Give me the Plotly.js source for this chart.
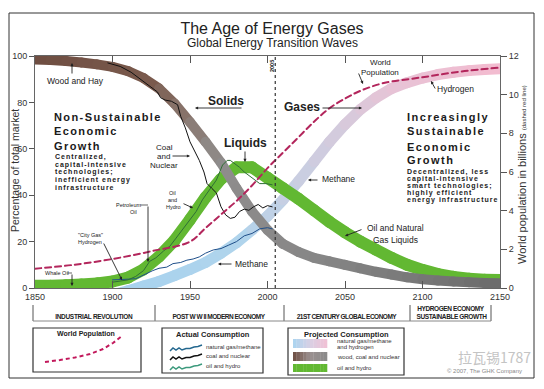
<!DOCTYPE html>
<html><head><meta charset="utf-8">
<script src="https://cdn.plot.ly/plotly-3.0.1.min.js"></script>
<style>
html,body{margin:0;padding:0;background:#fff;}
#chart{width:544px;height:389px;}
.scatterlayer .js-line{stroke-linecap:round;stroke-linejoin:round;}
</style></head><body><div id="chart"></div>
<script>
// ---------------- DATA ----------------
const bandYears = [1850,1860,1870,1880,1890,1900,1910,1920,1930,1940,1950,1960,1970,1980,1990,2000,2010,2020,2030,2040,2050,2060,2070,2080,2090,2100,2110,2120,2130,2140,2150];
const solidsShare  = [98.5,98.3,97.8,97.2,96.4,95.3,93.5,90.5,86,79.5,71.5,63,54,43,33,25,19,15.5,13,11.5,10,8.5,7,5.8,4.6,3.8,3.2,2.8,2.5,2.2,2];
const liquidsShare = [1,1,1.2,1.5,2,2.8,4.5,8,13.5,20.5,29.5,39,47,52,52,47.5,43,38.5,33.5,28.5,24,20,16.5,13,10,7.8,6,4.8,4,3.6,3.4];
const gasesShare   = [null,null,null,null,null,-3,-1.2,0.8,2.8,5.3,8,11,15,19.5,25,31,38,46,54.5,63,70.5,77,82,86,88.5,90.5,92,93,93.7,94.2,94.5];

const coalYears  = [1897,1905,1912,1920,1925,1929,1931,1934,1938,1942,1944,1947,1950,1953,1956,1959,1961,1964,1967,1970,1973,1976,1979,1982,1985,1988,1991,1994,1997,2000,2003];
const coalActual = [97,95.5,93,89,86.5,84.5,82,81,80.5,79,74,69,63,59,55,50,45,43,41,35,31.5,30,30.5,33,34,33.5,35,36,34.5,35.5,35];
const oilYears   = [1900,1905,1910,1915,1920,1924,1928,1933,1937,1941,1945,1950,1954,1958,1962,1967,1971,1974,1976,1979,1982,1985,1988,1991,1995,1999,2003];
const oilActual  = [2.5,3,3.5,5,7.5,11.5,13,16,18,21.5,25,29,33,38,42,46.5,53,55,55,53.5,52,50,48.5,47,45,45,44.5];
const gasYears   = [1900,1905,1910,1915,1918,1922,1926,1930,1935,1939,1944,1948,1952,1956,1960,1965,1970,1975,1980,1985,1990,1995,2000,2003];
const gasActual  = [3.5,3.5,3.8,4,5,6.5,7.5,8.5,9,10.5,11,12,12.5,13.4,15,16.4,17,18.5,20,22.5,23.5,25.5,26,25.5];

const popYears    = [1850,1875,1900,1925,1950,1960,1970,1980,1990,2000,2010,2020,2030,2040,2050,2060,2075,2100,2125,2150];
const popBillions = [1.0,1.2,1.5,1.9,2.4,3.1,3.8,4.5,5.3,6.2,7.0,7.8,8.6,9.3,9.8,10.2,10.6,10.9,11.2,11.4];

const xTickVals  = [1850,1900,1950,2000,2050,2100,2150];
const yTickVals  = [0,20,40,60,80,100];
const y2TickVals = [0,2,4,6,8,10,12];
const markerYear = 2005;
const eraLabels  = ['INDUSTRIAL REVOLUTION','POST W W II MODERN ECONOMY','21ST CENTURY GLOBAL ECONOMY','HYDROGEN ECONOMY','SUSTAINABLE GROWTH'];

// ---------------- HELPERS ----------------
const L=35,T=56,W=465,H=232;
const px=X=>(X-L)/W, py=Y=>(T+H-Y)/H;
const F='"Liberation Sans", Arial, sans-serif';
function hex2rgb(h){return [1,3,5].map(i=>parseInt(h.substr(i,2),16));}
function interp(stops,t){
  if(t<=stops[0][0]) return stops[0][1];
  for(let i=0;i<stops.length-1;i++){
    const a=stops[i],b=stops[i+1];
    if(t<=b[0]){const f=(t-a[0])/(b[0]-a[0]);const ca=hex2rgb(a[1]),cb=hex2rgb(b[1]);
      return 'rgb('+ca.map((v,k)=>Math.round(v+(cb[k]-v)*f)).join(',')+')';}
  }
  return stops[stops.length-1][1];
}
const solidStops=[[1850,'#6e4d41'],[1925,'#7a5a4d'],[1950,'#8a7870'],[1970,'#8f8d8c'],[2040,'#858585'],[2150,'#6c6c6c']];
const gasStops=[[1900,'#a6d2ef'],[1985,'#b0d4ec'],[2015,'#c6cfe3'],[2045,'#d3cbdd'],[2080,'#e6c4d6'],[2150,'#f3bbcf']];
const liqStops=[[1850,'#62b832'],[2150,'#62b832']];

const traces=[];
function band(vals,stops,w){
  for(let i=0;i<bandYears.length-1;i++){
    if(vals[i]==null||vals[i+1]==null) continue;
    traces.push({x:[bandYears[i],bandYears[i+1]],y:[vals[i],vals[i+1]],mode:'lines',
      line:{color:interp(stops,(bandYears[i]+bandYears[i+1])/2),width:w},hoverinfo:'skip',showlegend:false});
  }
}
band(gasesShare,gasStops,11);
band(liquidsShare,liqStops,12);
band(solidsShare,solidStops,10);
traces.push({x:gasYears,y:gasActual,mode:'lines',line:{color:'#1f4f8a',width:1},hoverinfo:'skip'});
traces.push({x:oilYears,y:oilActual,mode:'lines',line:{color:'#2f6f35',width:1},hoverinfo:'skip'});
traces.push({x:coalYears,y:coalActual,mode:'lines',line:{color:'#111',width:1},hoverinfo:'skip'});
traces.push({x:popYears,y:popBillions,yaxis:'y2',mode:'lines',line:{color:'#b3265c',width:2,dash:'6px,4px',shape:'spline'},hoverinfo:'skip'});

// ---------------- ANNOTATIONS ----------------
const anns=[]; const spacing={};
function txt(s,X,Y,size,o={}){
  anns.push({text:s,x:px(X),y:py(Y),xref:'paper',yref:'paper',showarrow:false,
    xanchor:o.anchor||'center',yanchor:'middle',align:o.anchor==='left'?'left':'center',
    textangle:o.angle||0,font:{family:o.family||F,size:size,color:o.color||'#222'}});
  if(o.ls!==undefined) spacing[anns.length-1]=o.ls;
}
function arrow(X1,Y1,X2,Y2,o={}){
  anns.push({text:'',x:px(X2),y:py(Y2),xref:'paper',yref:'paper',ax:X1-X2,ay:Y1-Y2,
    showarrow:true,arrowhead:o.head===undefined?2:o.head,arrowsize:0.7,arrowwidth:o.w||0.9,arrowcolor:'#222',standoff:0});
}
// spaced block texts
['Non-Sustainable','Economic','Growth'].forEach((s,i)=>txt('<b>'+s+'</b>',52,[117,131,146][i],11,{anchor:'left',ls:1.4,color:'#1a1a1a'}));
['Centralized,','capital-intensive','technologies;','inefficient energy','infrastructure'].forEach((s,i)=>txt('<b>'+s+'</b>',53,157+i*7.5,7,{anchor:'left',ls:1,color:'#1a1a1a'}));
['Increasingly','Sustainable','Economic','Growth'].forEach((s,i)=>txt('<b>'+s+'</b>',405,[117,131,147,160][i],11,{anchor:'left',ls:1.5,color:'#1a1a1a'}));
['Decentralized, less','capital-intensive','smart technologies;','highly efficient','energy infrastructure'].forEach((s,i)=>txt('<b>'+s+'</b>',405,172+i*7,7,{anchor:'left',ls:1,color:'#1a1a1a'}));

txt('Wood and Hay',75,81,8.5); arrow(72,75,72,63);
txt('Coal',164,147,8); txt('and',163,156,8); txt('Nuclear',164,165,8); arrow(171,156,190,156);
txt('<b>Solids</b>',226,101,12); arrow(243,108,195,108);
txt('<b>Liquids</b>',245,143,12); arrow(245,150,245,162);
txt('<b>Gases</b>',302,107,12); arrow(321,108,362,108);
txt('Methane',338,179,8.5); arrow(319,180,308,180);
txt('Methane',251,264,8.5); arrow(233,264,218,264);
txt('Oil and Natural',395,228,8.5); txt('Gas Liquids',395,240,8.5); arrow(363,229,345,236);
txt('Oil',172,193,5.5); txt('and',172,200,5.5); txt('Hydro',173,207,5.5); arrow(182,203,193,208);
txt('Petroleum',128,205,5.5); txt('Oil',133,212,5.5); arrow(139,205,148,205,{head:0,w:0.7}); arrow(148,205,148,262);
txt('"City Gas"',90,235,5.5); txt('Hydrogen',90,242,5.5); arrow(103,242,122,280);
txt('Whale Oil',57,273,5.5); arrow(66,273,72,273,{head:0,w:0.7}); arrow(72,273,72,286);
txt('World',380,63,8); txt('Population',380,72,8); arrow(358,72,363,84);
txt('Hydrogen',455,89,8.5); arrow(436,90,431,81);
txt('<b>2005</b>',272,66,5.5,{angle:-90});

// axis titles
txt('Percentage of total market',15,171,10.5,{angle:-90,color:'#333'});
txt('World population in billions <span style="font-size:6px">(dashed red line)</span>',522,175,11,{angle:-90,color:'#333'});
// subtitle
txt('Global Energy Transition Waves',272,43,12,{color:'#222'});
// eras
txt('<b>'+eraLabels[0]+'</b>',94,316,6.5,{color:'#222',ls:-0.3});
txt('<b>'+eraLabels[1]+'</b>',219,316,6.5,{color:'#222',ls:-0.5});
txt('<b>'+eraLabels[2]+'</b>',347,316,6.5,{color:'#222',ls:-0.5});
txt('<b>'+eraLabels[3]+'</b>',451,308,6.5,{color:'#222',ls:-0.4});
txt('<b>'+eraLabels[4]+'</b>',451,316,6.5,{color:'#222',ls:-0.4});
// legend texts
txt('<b>World Population</b>',86,334,7);
txt('<b>Actual Consumption</b>',213,334,7.5);
txt('natural gas/methane',204,347,6,{anchor:'left',color:'#333'});
txt('coal and nuclear',204,356,6,{anchor:'left',color:'#333'});
txt('oil and hydro',204,366,6,{anchor:'left',color:'#333'});
txt('<b>Projected Consumption</b>',346,334,7.5);
txt('natural gas/methane',335,341,6,{anchor:'left',color:'#333'});
txt('and hydrogen',335,347,6,{anchor:'left',color:'#333'});
txt('wood, coal and nuclear',335,357,6,{anchor:'left',color:'#333'});
txt('oil and hydro',335,368,6,{anchor:'left',color:'#333'});
// watermark
txt('拉瓦锡1787',494,357,14,{family:'"Noto Sans CJK SC", sans-serif',color:'#c4c4c4'});
txt('© 2007, The GHK Company',484,371,6,{color:'#888'});

// ---------------- SHAPES ----------------
const shapes=[];
function line(X1,Y1,X2,Y2,c,w,dash){shapes.push({type:'line',xref:'paper',yref:'paper',x0:px(X1),y0:py(Y1),x1:px(X2),y1:py(Y2),line:{color:c||'#444',width:w||1,dash:dash||'solid'}});}
function rect(X1,Y1,X2,Y2,o={}){shapes.push({type:'rect',xref:'paper',yref:'paper',x0:px(X1),y0:py(Y1),x1:px(X2),y1:py(Y2),fillcolor:o.fill||'rgba(0,0,0,0)',line:{color:o.line||'#333',width:o.w===undefined?1:o.w},layer:'above'});}
function path(pts,c,w,dash){shapes.push({type:'path',xref:'paper',yref:'paper',path:'M'+pts.map(p=>px(p[0])+','+py(p[1])).join(' L'),line:{color:c,width:w,dash:dash||'solid'}});}
// frame
rect(9,13,534,378,{line:'#333',w:1});
// 2005 marker
shapes.push({type:'line',xref:'x',yref:'paper',x0:markerYear,x1:markerYear,y0:0,y1:1,line:{color:'#333',width:1.2,dash:'dot'}});
// era brackets
[33,155,284,410,491].forEach(X=>line(X,305,X,321,'#555',1));
line(33,321,491,321,'#888',1);
// legend boxes
rect(33,328,141,372,{w:1.2});
rect(162,328,263,373,{w:1.2});
rect(288,328,404,375,{w:1.2});
path([[45,362],[60,360],[75,357.5],[90,354],[103,349],[113,343],[122,336]],'#c2185b',2,'4px,3px');
const wig=[[170,2],[173,-1],[176,1],[179,-1],[182,1],[186,-0.5],[190,-0.5],[194,-2],[198,-2.5],[202,-4]];
path(wig.map(p=>[p[0],349+p[1]]),'#24688f',1.5);
path(wig.map(p=>[p[0],358+p[1]]),'#111',1.5);
path(wig.map(p=>[p[0],368+p[1]]),'#3d9a7d',1.5);
function grad(X1,X2,Y1,Y2,c1,c2,c3){const n=10;for(let i=0;i<n;i++){const t=(i+0.5)/n;
  const col=c3? (t<0.5?interp([[0,c1],[0.5,c2]],t):interp([[0.5,c2],[1,c3]],t)) : interp([[0,c1],[1,c2]],t);
  shapes.push({type:'rect',xref:'paper',yref:'paper',x0:px(X1+(X2-X1)*i/n),x1:px(X1+(X2-X1)*(i+1)/n+0.3),y0:py(Y1),y1:py(Y2),fillcolor:col,line:{width:0}});}}
grad(293,327,339,348,'#a9d4f0','#d8d0e4','#f2c0d4');
grad(293,327,352,361,'#6e4d41','#9a9090','#8a8a8a');
grad(293,327,364,372,'#62b832','#62b832');

const layout={
  width:544,height:389,margin:{l:L,r:544-L-W,t:T,b:389-T-H},
  paper_bgcolor:'#fff',plot_bgcolor:'#fff',showlegend:false,
  title:{text:'The Age of Energy Gases',font:{family:F,size:16,color:'#222'},x:0.5,xref:'container',xanchor:'center',y:1-28/389,yref:'container',yanchor:'middle'},
  xaxis:{range:[1850,2150],tickvals:xTickVals,ticks:'inside',ticklen:7,tickcolor:'#555',showline:true,linecolor:'#666',mirror:'ticks',showgrid:false,zeroline:false,tickfont:{family:F,size:9,color:'#333'},fixedrange:true},
  yaxis:{range:[0,100],tickvals:yTickVals,ticks:'outside',ticklen:5,tickcolor:'#555',showline:true,linecolor:'#666',showgrid:false,zeroline:false,tickfont:{family:F,size:9,color:'#333'},fixedrange:true},
  yaxis2:{range:[0,12],overlaying:'y',side:'right',tickvals:y2TickVals,ticks:'outside',ticklen:6,tickcolor:'#555',showline:true,linecolor:'#666',showgrid:false,zeroline:false,tickfont:{family:F,size:9,color:'#333'},fixedrange:true},
  annotations:anns,shapes:shapes
};
Plotly.newPlot('chart',traces,layout,{displayModeBar:false,staticPlot:true}).then(()=>{
  document.querySelectorAll('g.annotation').forEach(g=>{
    const i=g.getAttribute('data-index');
    if(spacing[i]!==undefined){g.querySelectorAll('text').forEach(t=>t.style.letterSpacing=spacing[i]+'px');}
  });
});
</script></body></html>
